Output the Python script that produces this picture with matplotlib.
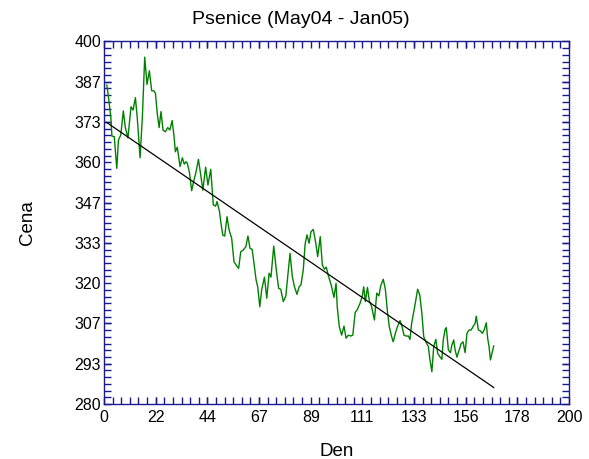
"""Psenice price series with linear trend."""

import matplotlib
matplotlib.use("Agg")
import matplotlib.pyplot as plt
import numpy as np
from matplotlib.ticker import MultipleLocator

days = [
    1.2, 1.9, 2.9, 3.4, 4.4, 5.5, 6.2, 7.2, 8.3, 9.2,
    10.3, 11.6, 12.5, 13.5, 14.3, 15.5, 16.5, 17.5, 18.5, 19.5,
    20.5, 21.4, 22.1, 22.9, 23.7, 24.5, 25.4, 26.4, 27.4, 28.3,
    29.3, 30.1, 30.7, 31.5, 32.7, 33.7, 34.5, 35.3, 35.8, 36.7,
    37.7, 38.7, 39.6, 40.6, 41.6, 42.5, 43.7, 44.7, 45.9, 46.6,
    47.0, 48.0, 48.6, 49.6, 50.3, 51.1, 51.9, 52.9, 53.8, 54.9,
    55.9, 57.1, 57.9, 58.8, 59.9, 61.0, 61.9, 62.8, 63.7, 64.5,
    65.4, 66.1, 67.0, 67.8, 69.0, 70.0, 71.0, 71.8, 73.0, 74.1,
    75.1, 76.0, 77.1, 78.2, 79.0, 80.0, 81.0, 81.9, 83.0, 83.9,
    84.7, 85.7, 86.5, 87.3, 88.2, 89.0, 90.0, 91.1, 91.9, 93.0,
    93.9, 94.8, 95.6, 96.5, 97.6, 98.9, 99.8, 100.3, 101.2, 102.2,
    103.2, 104.1, 105.1, 106.1, 107.0, 108.0, 109.0, 110.1, 111.0, 111.7,
    112.4, 113.3, 114.1, 115.1, 116.3, 117.3, 118.2, 119.0, 120.1, 121.0,
    121.9, 122.7, 123.7, 124.4, 125.3, 126.2, 127.3, 128.2, 129.0, 129.9,
    130.9, 131.6, 132.3, 133.5, 134.9, 135.8, 136.7, 137.5, 138.4, 139.5,
    140.1, 141.0, 141.8, 142.7, 143.5, 144.4, 145.3, 145.9, 146.7, 147.2,
    148.1, 149.0, 149.6, 150.4, 151.0, 151.8, 152.7, 153.6, 154.4, 155.3,
    156.1, 157.0, 157.9, 158.7, 159.6, 160.1, 161.0, 161.9, 162.7, 163.6,
    164.4, 165.0, 165.6, 166.2, 167.0, 167.6,
]
prices = [
    385.6, 381.7, 375.1, 368.7, 368.5, 358.0, 367.4, 369.0, 377.0, 371.4,
    368.1, 378.4, 377.3, 381.4, 374.7, 361.5, 375.1, 394.8, 385.8, 390.3,
    383.7, 383.7, 382.9, 376.2, 371.5, 376.8, 370.6, 370.1, 371.5, 370.7,
    373.8, 368.7, 363.5, 365.0, 358.6, 361.5, 359.4, 360.2, 359.7, 356.9,
    350.6, 354.2, 356.9, 361.0, 355.8, 350.8, 358.4, 352.5, 357.7, 350.3,
    345.9, 345.5, 347.0, 344.0, 339.8, 335.9, 335.6, 342.0, 337.6, 334.9,
    327.1, 325.7, 324.9, 330.4, 331.0, 332.1, 335.6, 331.5, 331.2, 326.6,
    321.1, 318.8, 312.2, 317.7, 322.0, 315.0, 323.3, 322.0, 332.3, 324.4,
    318.3, 318.0, 313.9, 315.8, 322.1, 329.9, 322.1, 318.8, 316.3, 318.8,
    319.4, 324.4, 333.0, 336.0, 333.2, 337.0, 337.8, 333.2, 328.8, 335.4,
    326.0, 324.6, 325.3, 322.4, 319.7, 315.3, 320.0, 312.2, 305.6, 302.8,
    305.8, 301.8, 302.8, 302.5, 302.8, 310.2, 311.4, 313.3, 315.5, 318.8,
    313.9, 318.6, 314.2, 312.2, 307.8, 316.7, 315.8, 319.1, 321.3, 318.0,
    310.6, 305.6, 302.3, 300.6, 303.4, 305.6, 307.6, 305.6, 302.8, 302.5,
    302.5, 301.4, 306.7, 311.7, 318.0, 316.1, 310.0, 302.3, 300.6, 299.0,
    295.1, 290.7, 299.0, 301.4, 296.8, 295.7, 294.8, 301.2, 304.7, 305.3,
    297.9, 297.0, 299.5, 301.2, 297.9, 295.5, 297.7, 300.0, 300.6, 297.0,
    303.4, 304.5, 304.5, 305.6, 306.7, 309.1, 304.5, 304.2, 303.4, 304.7,
    306.9, 301.8, 299.0, 294.6, 297.3, 299.2,
]

# fitted trend
trend_intercept = 373.8
trend_slope = -0.527

x_ticks = [0, 22.22, 44.44, 66.67, 88.89, 111.11, 133.33, 155.56, 177.78, 200]
x_tick_labels = ["0", "22", "44", "67", "89", "111", "133", "156", "178", "200"]
y_ticks = [280, 293.33, 306.67, 320, 333.33, 346.67, 360, 373.33, 386.67, 400]
y_tick_labels = ["280", "293", "307", "320", "333", "347", "360", "373", "387", "400"]

AXIS_BLUE = "#1a1a8c"

plt.rcParams["font.family"] = ["Liberation Sans", "DejaVu Sans"]

fig = plt.figure(figsize=(5.89, 4.59), dpi=100)
ax = fig.add_axes([0.1766, 0.1198, 0.7895, 0.7898])

ax.plot(days, prices, color="#008000", linewidth=1.0)
tx = np.array([days[0], days[-1]])
ax.plot(tx, trend_intercept + trend_slope * tx, color="black", linewidth=0.9)

ax.set_xlim(0, 200)
ax.set_ylim(280, 400)
ax.set_xticks(x_ticks)
ax.set_xticklabels(x_tick_labels)
ax.set_yticks(y_ticks)
ax.set_yticklabels(y_tick_labels)
ax.xaxis.set_minor_locator(MultipleLocator(200 / 54))
ax.yaxis.set_minor_locator(MultipleLocator(120 / 54))

for spine in ax.spines.values():
    spine.set_color(AXIS_BLUE)
    spine.set_linewidth(1.0)
ax.tick_params(which="both", direction="in", top=True, right=True,
               color=AXIS_BLUE, length=5, width=1.0, labelsize=11.5,
               labelcolor="black")
ax.tick_params(axis="x", which="major", pad=4)
ax.tick_params(axis="y", which="major", pad=2)

ax.set_xlabel("Den", fontsize=13.5, labelpad=13)
ax.set_ylabel("Cena", fontsize=13.5, labelpad=28)
fig.text(301 / 589, 1 - 20 / 459, "Psenice (May04 - Jan05)", fontsize=14,
         ha="center", va="center")

fig.savefig("out.png", dpi=100)
